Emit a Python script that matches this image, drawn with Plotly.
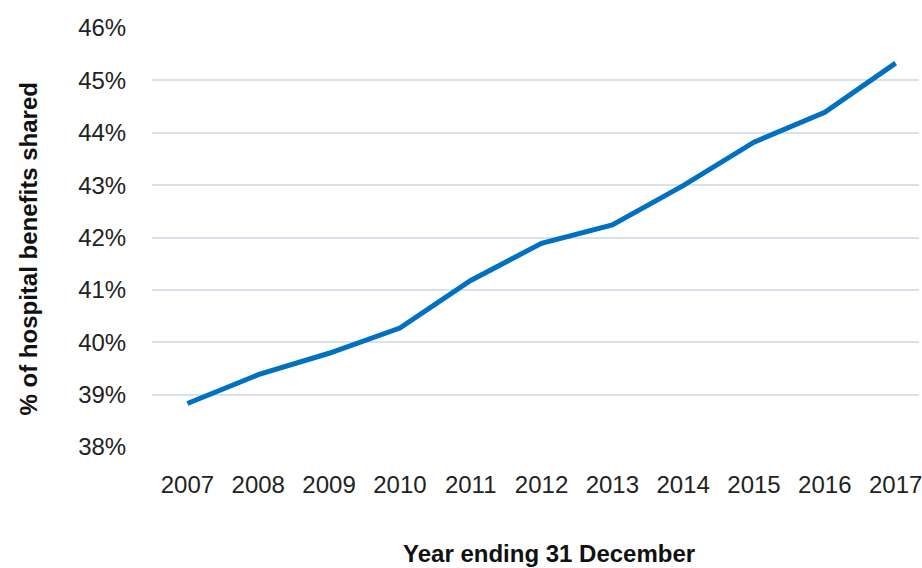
import plotly.graph_objects as go

years = ["2007", "2008", "2009", "2010", "2011", "2012", "2013", "2014", "2015", "2016", "2017"]
shared_pct = [38.83, 39.38, 39.79, 40.27, 41.18, 41.89, 42.24, 42.99, 43.82, 44.39, 45.33]
y_ticks = [38, 39, 40, 41, 42, 43, 44, 45, 46]
y_tick_labels = [f"{v}%" for v in y_ticks]
x_title = "Year ending 31 December"
y_title = "% of hospital benefits shared"

FONT = "Liberation Sans, Arial, sans-serif"

fig = go.Figure()
fig.add_trace(go.Scatter(
    x=years, y=shared_pct, mode="lines",
    line=dict(color="#0070C0", width=5),
    showlegend=False, hoverinfo="skip",
))

fig.update_layout(
    width=922, height=568,
    margin=dict(l=152, r=0, t=28, b=121),
    paper_bgcolor="white", plot_bgcolor="white",
    font=dict(family=FONT, color="#222222"),
    xaxis=dict(
        type="category", range=[-0.5, 10.33],
        showgrid=False, zeroline=False, showline=False,
        ticks="outside", ticklen=16, tickcolor="rgba(0,0,0,0)",
        tickfont=dict(size=24, family=FONT, color="#222222"),
    ),
    yaxis=dict(
        range=[38, 46], tickvals=y_ticks, ticktext=y_tick_labels,
        showgrid=True, gridcolor="#D9E1EA", gridwidth=2,
        zeroline=False, showline=False,
        ticks="outside", ticklen=20, tickcolor="rgba(0,0,0,0)",
        tickfont=dict(size=24, family=FONT, color="#222222"),
    ),
    annotations=[
        dict(text=f"<b>{x_title}</b>", xref="paper", yref="paper",
             x=0.517, y=-0.253, xanchor="center", yanchor="middle",
             showarrow=False, font=dict(size=24, family=FONT, color="#111111")),
        dict(text=f"<b>{y_title}</b>", xref="paper", yref="paper",
             x=-0.161, y=0.4726, xanchor="center", yanchor="middle",
             textangle=-90, showarrow=False,
             font=dict(size=24, family=FONT, color="#111111")),
    ],
)

fig.write_html("out.html")
